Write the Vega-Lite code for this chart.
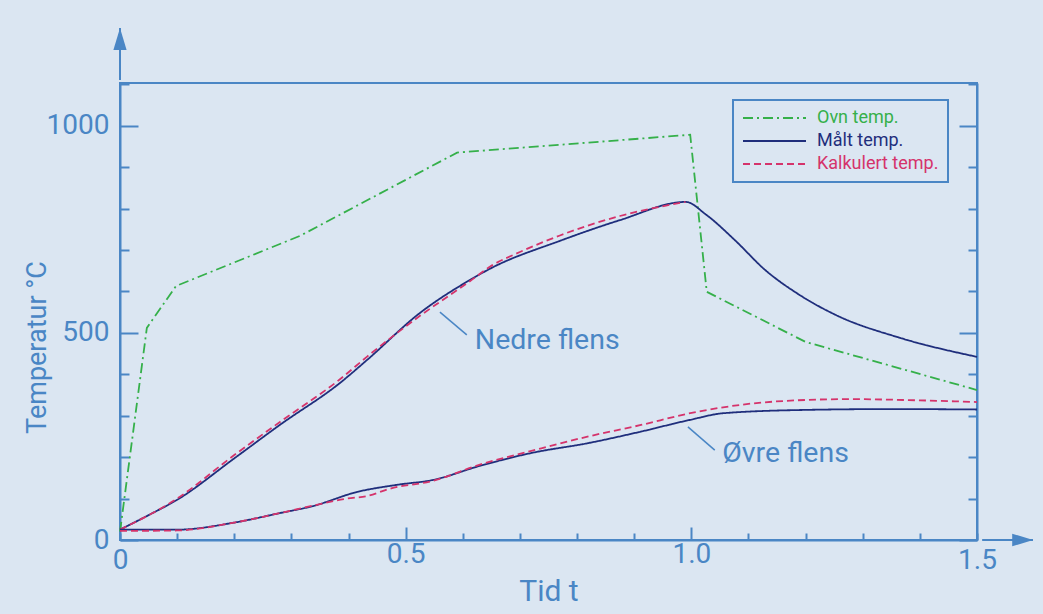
{
  "$schema": "https://vega.github.io/schema/vega-lite/v6.json",
  "width": 857,
  "height": 457,
  "autosize": {"type": "none"},
  "padding": {"left": 120, "top": 83, "right": 66, "bottom": 74},
  "background": "#dbe6f2",
  "config": {
    "view": {"stroke": "#4a86c5", "strokeWidth": 2},
    "font": "Roboto",
    "axis": {
      "domainColor": "#4a86c5", "domainWidth": 2,
      "tickColor": "#4a86c5", "tickWidth": 2,
      "labelColor": "#4a86c5", "titleColor": "#4a86c5",
      "labelFont": "Roboto", "titleFont": "Roboto",
      "labelFontSize": 28, "titleFontSize": 28, "titleFontWeight": "normal",
      "grid": false, "labelOverlap": false, "labelFlush": false
    }
  },
  "datasets": {
    "curves": [
      {"t": 0, "T": 20, "serie": "Ovn temp.", "kurve": "ovn"},
      {"t": 0.047, "T": 512, "serie": "Ovn temp.", "kurve": "ovn"},
      {"t": 0.098, "T": 613, "serie": "Ovn temp.", "kurve": "ovn"},
      {"t": 0.315, "T": 734, "serie": "Ovn temp.", "kurve": "ovn"},
      {"t": 0.59, "T": 935, "serie": "Ovn temp.", "kurve": "ovn"},
      {"t": 0.998, "T": 978, "serie": "Ovn temp.", "kurve": "ovn"},
      {"t": 1.027, "T": 599, "serie": "Ovn temp.", "kurve": "ovn"},
      {"t": 1.2, "T": 478, "serie": "Ovn temp.", "kurve": "ovn"},
      {"t": 1.5, "T": 362, "serie": "Ovn temp.", "kurve": "ovn"},

      {"t": 0, "T": 25, "serie": "Målt temp.", "kurve": "malt_nedre"},
      {"t": 0.05, "T": 60, "serie": "Målt temp.", "kurve": "malt_nedre"},
      {"t": 0.1, "T": 97, "serie": "Målt temp.", "kurve": "malt_nedre"},
      {"t": 0.2, "T": 197, "serie": "Målt temp.", "kurve": "malt_nedre"},
      {"t": 0.28, "T": 278, "serie": "Målt temp.", "kurve": "malt_nedre"},
      {"t": 0.385, "T": 379, "serie": "Målt temp.", "kurve": "malt_nedre"},
      {"t": 0.432, "T": 434, "serie": "Målt temp.", "kurve": "malt_nedre"},
      {"t": 0.525, "T": 548, "serie": "Målt temp.", "kurve": "malt_nedre"},
      {"t": 0.613, "T": 628, "serie": "Målt temp.", "kurve": "malt_nedre"},
      {"t": 0.648, "T": 655, "serie": "Målt temp.", "kurve": "malt_nedre"},
      {"t": 0.77, "T": 722, "serie": "Målt temp.", "kurve": "malt_nedre"},
      {"t": 0.875, "T": 772, "serie": "Målt temp.", "kurve": "malt_nedre"},
      {"t": 0.99, "T": 816, "serie": "Målt temp.", "kurve": "malt_nedre"},
      {"t": 1.026, "T": 785, "serie": "Målt temp.", "kurve": "malt_nedre"},
      {"t": 1.076, "T": 724, "serie": "Målt temp.", "kurve": "malt_nedre"},
      {"t": 1.129, "T": 652, "serie": "Målt temp.", "kurve": "malt_nedre"},
      {"t": 1.19, "T": 591, "serie": "Målt temp.", "kurve": "malt_nedre"},
      {"t": 1.253, "T": 543, "serie": "Målt temp.", "kurve": "malt_nedre"},
      {"t": 1.365, "T": 488, "serie": "Målt temp.", "kurve": "malt_nedre"},
      {"t": 1.5, "T": 442, "serie": "Målt temp.", "kurve": "malt_nedre"},

      {"t": 0, "T": 25, "serie": "Kalkulert temp.", "kurve": "kalk_nedre"},
      {"t": 0.1, "T": 100, "serie": "Kalkulert temp.", "kurve": "kalk_nedre"},
      {"t": 0.2, "T": 205, "serie": "Kalkulert temp.", "kurve": "kalk_nedre"},
      {"t": 0.28, "T": 285, "serie": "Kalkulert temp.", "kurve": "kalk_nedre"},
      {"t": 0.385, "T": 388, "serie": "Kalkulert temp.", "kurve": "kalk_nedre"},
      {"t": 0.432, "T": 442, "serie": "Kalkulert temp.", "kurve": "kalk_nedre"},
      {"t": 0.525, "T": 541, "serie": "Kalkulert temp.", "kurve": "kalk_nedre"},
      {"t": 0.613, "T": 625, "serie": "Kalkulert temp.", "kurve": "kalk_nedre"},
      {"t": 0.648, "T": 660, "serie": "Kalkulert temp.", "kurve": "kalk_nedre"},
      {"t": 0.7, "T": 695, "serie": "Kalkulert temp.", "kurve": "kalk_nedre"},
      {"t": 0.77, "T": 735, "serie": "Kalkulert temp.", "kurve": "kalk_nedre"},
      {"t": 0.875, "T": 782, "serie": "Kalkulert temp.", "kurve": "kalk_nedre"},
      {"t": 0.99, "T": 816, "serie": "Kalkulert temp.", "kurve": "kalk_nedre"},

      {"t": 0, "T": 25, "serie": "Målt temp.", "kurve": "malt_ovre"},
      {"t": 0.1, "T": 25, "serie": "Målt temp.", "kurve": "malt_ovre"},
      {"t": 0.2, "T": 42, "serie": "Målt temp.", "kurve": "malt_ovre"},
      {"t": 0.28, "T": 65, "serie": "Målt temp.", "kurve": "malt_ovre"},
      {"t": 0.338, "T": 82, "serie": "Målt temp.", "kurve": "malt_ovre"},
      {"t": 0.415, "T": 116, "serie": "Målt temp.", "kurve": "malt_ovre"},
      {"t": 0.484, "T": 133, "serie": "Målt temp.", "kurve": "malt_ovre"},
      {"t": 0.548, "T": 145, "serie": "Målt temp.", "kurve": "malt_ovre"},
      {"t": 0.63, "T": 179, "serie": "Målt temp.", "kurve": "malt_ovre"},
      {"t": 0.72, "T": 210, "serie": "Målt temp.", "kurve": "malt_ovre"},
      {"t": 0.82, "T": 234, "serie": "Målt temp.", "kurve": "malt_ovre"},
      {"t": 0.91, "T": 261, "serie": "Målt temp.", "kurve": "malt_ovre"},
      {"t": 0.998, "T": 290, "serie": "Målt temp.", "kurve": "malt_ovre"},
      {"t": 1.056, "T": 306, "serie": "Målt temp.", "kurve": "malt_ovre"},
      {"t": 1.2, "T": 314, "serie": "Målt temp.", "kurve": "malt_ovre"},
      {"t": 1.35, "T": 316, "serie": "Målt temp.", "kurve": "malt_ovre"},
      {"t": 1.5, "T": 315, "serie": "Målt temp.", "kurve": "malt_ovre"},

      {"t": 0, "T": 22, "serie": "Kalkulert temp.", "kurve": "kalk_ovre"},
      {"t": 0.1, "T": 23, "serie": "Kalkulert temp.", "kurve": "kalk_ovre"},
      {"t": 0.2, "T": 42, "serie": "Kalkulert temp.", "kurve": "kalk_ovre"},
      {"t": 0.28, "T": 65, "serie": "Kalkulert temp.", "kurve": "kalk_ovre"},
      {"t": 0.338, "T": 83, "serie": "Kalkulert temp.", "kurve": "kalk_ovre"},
      {"t": 0.397, "T": 100, "serie": "Kalkulert temp.", "kurve": "kalk_ovre"},
      {"t": 0.432, "T": 106, "serie": "Kalkulert temp.", "kurve": "kalk_ovre"},
      {"t": 0.473, "T": 124, "serie": "Kalkulert temp.", "kurve": "kalk_ovre"},
      {"t": 0.548, "T": 143, "serie": "Kalkulert temp.", "kurve": "kalk_ovre"},
      {"t": 0.63, "T": 182, "serie": "Kalkulert temp.", "kurve": "kalk_ovre"},
      {"t": 0.72, "T": 215, "serie": "Kalkulert temp.", "kurve": "kalk_ovre"},
      {"t": 0.82, "T": 250, "serie": "Kalkulert temp.", "kurve": "kalk_ovre"},
      {"t": 0.91, "T": 277, "serie": "Kalkulert temp.", "kurve": "kalk_ovre"},
      {"t": 0.998, "T": 306, "serie": "Kalkulert temp.", "kurve": "kalk_ovre"},
      {"t": 1.085, "T": 326, "serie": "Kalkulert temp.", "kurve": "kalk_ovre"},
      {"t": 1.2, "T": 338, "serie": "Kalkulert temp.", "kurve": "kalk_ovre"},
      {"t": 1.278, "T": 340, "serie": "Kalkulert temp.", "kurve": "kalk_ovre"},
      {"t": 1.4, "T": 337, "serie": "Kalkulert temp.", "kurve": "kalk_ovre"},
      {"t": 1.5, "T": 333, "serie": "Kalkulert temp.", "kurve": "kalk_ovre"}
    ],
    "labels": [
      {"t": 0.621, "T": 483, "t1": 0.560, "T1": 550, "t2": 0.607, "T2": 495, "label": "Nedre flens"},
      {"t": 1.054, "T": 210, "t1": 0.994, "T1": 273, "t2": 1.041, "T2": 217, "label": "Øvre flens"}
    ],
    "yarrow": [{"t": 0, "T": 1110, "T2": 1236, "Th": 1209}],
    "xarrow": [{"t": 1.509, "t2": 1.598, "th": 1.58, "T": 0}]
  },
  "resolve": {"axis": {"y": "independent"}},
  "layer": [
    {
      "data": {"name": "curves"},
      "transform": [{"filter": "datum.serie === 'Ovn temp.'"}],
      "mark": {"type": "line", "strokeWidth": 1.8},
      "encoding": {
        "x": {
          "field": "t", "type": "quantitative",
          "scale": {"domain": [0, 1.5], "nice": false, "zero": false},
          "axis": {
            "title": "Tid t",
            "titleFontSize": 30,
            "values": [0, 0.1, 0.2, 0.3, 0.4, 0.5, 0.6, 0.7, 0.8, 0.9, 1, 1.1, 1.2, 1.3, 1.4, 1.5],
            "labelExpr": "datum.value === 0 ? '0' : (datum.value === 0.5 || datum.value === 1 || datum.value === 1.5 ? format(datum.value, '.1f') : '')",
            "tickSize": {"condition": {"test": "datum.value === 0.5 || datum.value === 1", "value": -13}, "value": -7},
            "labelPadding": 13,
            "titlePadding": 2
          }
        },
        "y": {
          "field": "T", "type": "quantitative",
          "scale": {"domain": [0, 1103], "nice": false},
          "axis": {
            "title": "Temperatur °C",
            "titleFontSize": 27,
            "format": "d",
            "values": [0, 100, 200, 300, 400, 500, 600, 700, 800, 900, 1000, 1100],
            "labelExpr": "datum.value % 500 === 0 ? datum.label : ''",
            "tickSize": {"condition": {"test": "datum.value % 500 === 0", "value": -18}, "value": -9},
            "labelPadding": 29,
            "titleX": -83,
            "titleY": 264,
            "titleAngle": -90,
            "titleAlign": "center",
            "titleBaseline": "middle"
          }
        },
        "color": {
          "field": "serie", "type": "nominal",
          "scale": {"domain": ["Ovn temp.", "Målt temp.", "Kalkulert temp."], "range": ["#35b04a", "#1f2e7c", "#d5336b"]},
          "legend": {
            "title": null,
            "orient": "none",
            "legendX": 613,
            "legendY": 17,
            "strokeColor": "#4a86c5",
            "fillColor": "#dbe6f2",
            "padding": 9,
            "symbolType": "stroke",
            "symbolSize": 3969,
            "symbolStrokeWidth": 2,
            "clipHeight": 18,
            "rowPadding": 5,
            "labelOffset": 10,
            "labelFont": "Roboto",
            "labelFontSize": 18,
            "encode": {"labels": {"update": {"fill": {"signal": "scale('color', datum.value)"}}}, "legend": {"update": {"strokeWidth": {"value": 2}}}}
          }
        },
        "strokeDash": {
          "field": "serie", "type": "nominal",
          "scale": {"domain": ["Ovn temp.", "Målt temp.", "Kalkulert temp."], "range": [[10, 4, 2, 4], [1, 0], [7, 4]]}
        },
        "detail": {"field": "kurve"}
      }
    },
    {
      "data": {"name": "curves"},
      "transform": [{"filter": "datum.serie !== 'Ovn temp.'"}],
      "mark": {"type": "line", "strokeWidth": 1.8, "interpolate": "monotone"},
      "encoding": {
        "x": {"field": "t", "type": "quantitative", "scale": {"domain": [0, 1.5], "nice": false, "zero": false}},
        "y": {
          "field": "T", "type": "quantitative",
          "scale": {"domain": [0, 1103], "nice": false},
          "axis": {
            "orient": "right",
            "title": null,
            "labels": false,
            "values": [0, 100, 200, 300, 400, 500, 600, 700, 800, 900, 1000, 1100],
            "tickSize": {"condition": {"test": "datum.value % 500 === 0", "value": -18}, "value": -9}
          }
        },
        "color": {"field": "serie", "type": "nominal", "scale": {"domain": ["Ovn temp.", "Målt temp.", "Kalkulert temp."], "range": ["#35b04a", "#1f2e7c", "#d5336b"]}},
        "strokeDash": {"field": "serie", "type": "nominal", "scale": {"domain": ["Ovn temp.", "Målt temp.", "Kalkulert temp."], "range": [[10, 4, 2, 4], [1, 0], [7, 4]]}},
        "detail": {"field": "kurve"}
      }
    },
    {
      "data": {"name": "labels"},
      "mark": {"type": "rule", "color": "#4a86c5", "strokeWidth": 1.5},
      "encoding": {
        "x": {"field": "t1", "type": "quantitative"},
        "x2": {"field": "t2"},
        "y": {"field": "T1", "type": "quantitative", "axis": null},
        "y2": {"field": "T2"}
      }
    },
    {
      "data": {"name": "labels"},
      "mark": {"type": "text", "color": "#4a86c5", "fontSize": 28.5, "font": "Roboto", "align": "left", "baseline": "middle"},
      "encoding": {
        "x": {"field": "t", "type": "quantitative"},
        "y": {"field": "T", "type": "quantitative", "axis": null},
        "text": {"field": "label"}
      }
    },
    {
      "data": {"name": "yarrow"},
      "mark": {"type": "rule", "color": "#4a86c5", "strokeWidth": 2},
      "encoding": {
        "x": {"field": "t", "type": "quantitative"},
        "y": {"field": "T", "type": "quantitative", "axis": null},
        "y2": {"field": "T2"}
      }
    },
    {
      "data": {"name": "yarrow"},
      "mark": {"type": "point", "shape": "M-0.6,1 L0,-1 L0.6,1 Z", "size": 484, "filled": true, "color": "#4a86c5", "opacity": 1},
      "encoding": {
        "x": {"field": "t", "type": "quantitative"},
        "y": {"field": "Th", "type": "quantitative", "axis": null}
      }
    },
    {
      "data": {"name": "xarrow"},
      "mark": {"type": "rule", "color": "#4a86c5", "strokeWidth": 2},
      "encoding": {
        "x": {"field": "t", "type": "quantitative"},
        "x2": {"field": "t2"},
        "y": {"field": "T", "type": "quantitative", "axis": null}
      }
    },
    {
      "data": {"name": "xarrow"},
      "mark": {"type": "point", "shape": "M-1,-0.6 L1,0 L-1,0.6 Z", "size": 441, "filled": true, "color": "#4a86c5", "opacity": 1},
      "encoding": {
        "x": {"field": "th", "type": "quantitative"},
        "y": {"field": "T", "type": "quantitative", "axis": null}
      }
    }
  ]
}
